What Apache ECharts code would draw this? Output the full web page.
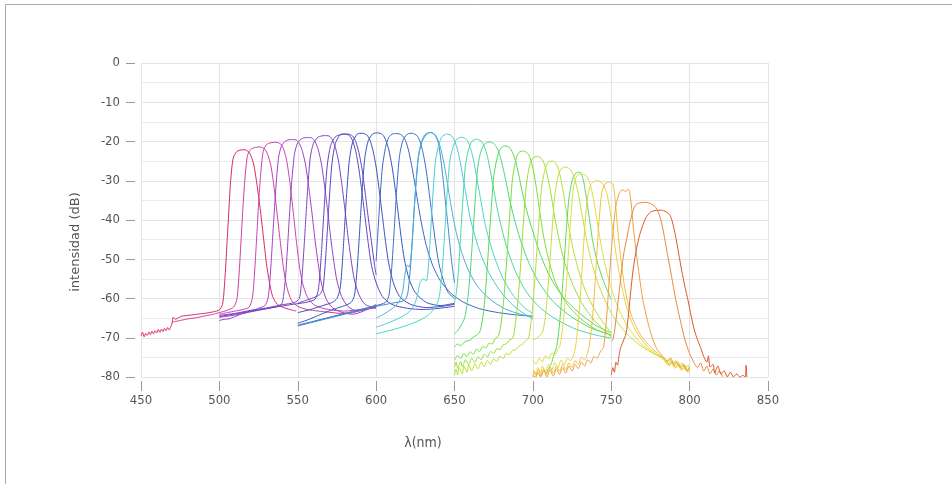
<!DOCTYPE html>
<html>
<head>
<meta charset="utf-8">
<script src="https://cdn.jsdelivr.net/npm/echarts@6/dist/echarts.min.js"></script>
<style>
html,body{margin:0;padding:0;background:#fff;}
#chart{width:952px;height:484px;}
</style>
</head>
<body>
<div id="chart"></div>
<script>
// Axis tick labels
const xTicks = [450, 500, 550, 600, 650, 700, 750, 800, 850];
const yTicks = [0, -10, -20, -30, -40, -50, -60, -70, -80];
const xName = 'λ(nm)';
const yName = 'intensidad (dB)';

// Spectral curves, [wavelength nm, intensity dB]
const A1 = [[450,-69.5],[451,-68.6],[452,-69.8],[453,-68.9],[454,-69.4],[455,-68.5],[456,-69.2],[457,-68.3],[458,-69],[459,-68.2],[460,-68.8],[461,-67.9],[462,-68.6],[463,-67.8],[464,-68.4],[465,-67.6],[466,-68.2],[467,-67.4],[468,-68],[469,-67.2],[470,-66],[470.5,-64.8],[472,-65.3],[474,-64.9],[476,-64.5],[478,-64.4],[480,-64.3],[484,-64.1],[488,-63.9],[492,-63.7],[496,-63.4],[500,-62.9],[502,-61.5],[503,-58],[504,-52],[505,-45],[506,-38],[507,-31],[508,-26.5],[509,-24],[511,-22.6],[513,-22.2],[516,-22.1],[518,-22.4],[520,-23.5],[522,-26],[524,-31],[526,-37],[528,-44],[530,-51],[532,-56],[534,-59.5],[537,-61.5],[541,-62.3],[545,-62.8],[549,-63.2]];
const A2 = [[470,-66],[475,-65.6],[480,-65.2],[485,-64.9],[490,-64.5],[495,-64.1],[500,-63.6],[505,-63],[509,-62.2],[511,-60.5],[512,-57],[513,-51],[514,-44],[515,-37],[516,-31],[517,-26.5],[518,-23.5],[520,-22],[523,-21.5],[526,-21.4],[529,-22],[531,-23.5],[533,-26.5],[535,-32],[537,-39],[539,-46],[541,-52.5],[543,-57],[546,-60.5],[550,-62],[556,-62.8],[563,-63.2],[570,-63.5],[578,-63.8],[585,-63.6],[592,-62.8],[600,-62.2]];
const A3 = [[500,-64],[505,-63.6],[510,-63.2],[515,-62.8],[519,-62.2],[521,-60],[522,-56],[523,-50],[524,-43],[525,-36],[526,-30],[527,-25.5],[528,-22.5],[530,-20.8],[533,-20.3],[536,-20.2],[539,-20.6],[541,-22],[543,-25],[545,-30.5],[547,-37.5],[549,-45],[551,-51.5],[553,-56],[556,-59.5],[560,-61.5],[566,-62.5],[573,-63],[580,-63.2],[590,-62.8],[600,-62.4]];
const A4 = [[500,-65.6],[503,-65.3],[506,-65.2],[510,-64.6],[515,-63.8],[520,-63.2],[525,-62.5],[529,-61.8],[531,-60],[532,-56.5],[533,-51],[534,-44.5],[535,-38],[536,-32],[537,-27],[538,-23.5],[540,-20.8],[543,-19.7],[546,-19.5],[549,-19.6],[551,-20.5],[553,-22.5],[555,-26],[557,-31.5],[559,-38],[561,-45],[563,-51],[565,-56],[568,-60],[572,-62.3],[578,-63.5],[585,-64],[592,-63.2],[600,-61.5]];
const A5 = [[500,-64.8],[510,-64.2],[520,-63.4],[530,-62.6],[537,-62],[540,-61.2],[541,-59],[542,-55.5],[543,-50],[544,-43.5],[545,-37],[546,-31],[547,-26.5],[548,-23],[550,-20.3],[553,-19.2],[556,-19],[559,-19.1],[561,-20],[563,-22],[565,-25.5],[567,-31],[569,-37.5],[571,-44.5],[573,-50.5],[575,-55.5],[578,-59.5],[582,-62],[588,-63.2],[594,-62.8],[600,-62]];
const A6 = [[500,-64.3],[510,-63.8],[520,-63],[530,-62.4],[540,-61.6],[548,-61],[551,-60],[552,-57.5],[553,-53],[554,-47],[555,-40.5],[556,-34],[557,-28.5],[558,-24],[560,-20.5],[563,-18.9],[567,-18.5],[570,-18.6],[572,-19.5],[574,-21.5],[576,-25],[578,-30.5],[580,-37],[582,-44],[584,-50],[586,-55],[589,-59],[593,-61.5],[600,-62.5]];
const A7 = [[500,-64.6],[515,-63.6],[530,-62.6],[545,-61.6],[555,-61],[561,-60.2],[563,-58],[564,-54.5],[565,-49],[566,-42.5],[567,-36],[568,-30],[569,-25.5],[571,-21],[574,-18.8],[578,-18.2],[582,-18.1],[585,-18.6],[587,-20],[589,-22.8],[591,-27],[593,-33],[595,-39.5],[597,-45.5],[599,-51.5],[600,-54]];
const B1 = [[550,-61.2],[555,-60.5],[560,-59.8],[564,-59],[566,-57.5],[567,-54],[568,-48.5],[569,-42],[570,-35.5],[571,-29.5],[572,-25],[574,-20.5],[577,-18.3],[580,-18.1],[583,-18.5],[585,-19.8],[587,-22.5],[589,-27],[591,-33],[593,-39.5],[595,-46],[597,-51.5],[600,-56],[604,-59.5],[610,-61.5],[620,-62.5],[630,-62.8],[640,-62.5],[650,-62]];
const B2 = [[550,-63.6],[558,-62.8],[566,-61.8],[572,-61],[575,-60],[577,-57.5],[578,-53.5],[579,-47.5],[580,-41],[581,-34.5],[582,-29],[583,-24.5],[585,-20.2],[588,-18.1],[591,-17.9],[594,-18.3],[596,-19.6],[598,-22.3],[600,-26.5],[602,-32.5],[604,-39],[606,-45.5],[608,-51],[611,-56],[615,-59.5],[622,-61.5],[632,-62.3],[642,-62],[650,-61.5]];
const B3 = [[550,-66.3],[556,-65.5],[562,-64.5],[568,-63.5],[574,-62.6],[580,-61.8],[584,-61],[586,-59.5],[587,-56.5],[588,-52],[589,-46],[590,-39.5],[591,-33],[592,-27.5],[593,-23.5],[595,-19.8],[598,-18],[601,-17.8],[604,-18.2],[606,-19.5],[608,-22],[610,-26],[612,-31.5],[614,-38],[616,-44.5],[618,-50],[621,-55],[625,-58.5],[632,-61],[641,-61.8],[650,-61.2]];
const B4 = [[550,-66.8],[560,-65.8],[570,-64.8],[580,-63.8],[590,-62.8],[600,-61.8],[606,-61],[608,-59.5],[609,-56.5],[610,-52],[611,-46],[612,-39.5],[613,-33],[614,-27.5],[615,-23.5],[617,-19.8],[620,-18.1],[623,-17.9],[626,-18.5],[628,-20],[630,-23],[632,-27.5],[634,-33.5],[636,-40],[638,-46],[640,-51],[643,-55.5],[646,-58.5],[650,-60]];
const B5 = [[550,-67],[560,-66],[570,-65],[580,-64],[590,-63],[600,-62],[610,-61.2],[618,-60.5],[620,-59],[621,-56],[622,-51.5],[623,-45.5],[624,-39],[625,-33],[626,-28],[627,-24],[629,-20.3],[632,-18.2],[635,-17.7],[638,-18.6],[640,-21],[642,-27],[644,-34.5],[646,-42],[648,-50],[650,-56]];
const C1 = [[600,-50.5],[601,-44],[602,-37.5],[603,-31.5],[604,-26.5],[606,-21.5],[608,-19],[611,-18],[614,-18],[617,-18.6],[619,-20],[621,-22.8],[623,-26.8],[625,-31.5],[627,-36.5],[629,-41],[632,-46.5],[636,-51.5],[641,-55.5],[648,-58.8],[656,-61],[666,-62.6],[678,-63.6],[690,-64.2],[700,-64.5]];
const C2 = [[600,-65],[604,-64.2],[608,-63.2],[612,-62],[615,-60.5],[617,-58],[618,-55],[619,-52.5],[620,-51.5],[621,-52],[622,-50.5],[623,-46],[624,-39.5],[625,-33],[626,-27.5],[627,-23.5],[629,-20],[631,-18.3],[634,-17.7],[637,-18],[639,-19.2],[641,-21.5],[643,-25],[645,-29.5],[647,-34.5],[649,-39],[651,-43],[654,-47.5],[658,-52],[664,-56.5],[672,-60],[682,-62.6],[692,-64],[700,-64.8]];
const C3 = [[600,-67.3],[606,-66.5],[612,-65.5],[618,-64.3],[622,-63],[625,-61],[627,-58],[628,-56],[630,-55],[632,-55.5],[633,-53.5],[634,-48],[635,-41.5],[636,-35],[637,-29],[638,-24.5],[640,-20.8],[642,-18.8],[645,-18.1],[648,-18.5],[650,-19.8],[652,-22.2],[654,-26],[656,-30.5],[658,-35],[660,-39.5],[663,-44],[667,-49],[672,-53.5],[679,-58],[688,-62],[700,-65.3]];
const C4 = [[600,-69],[610,-68],[620,-66.8],[628,-65.5],[634,-64],[638,-62],[640,-60],[641,-57.5],[642,-53.5],[643,-48],[644,-41.5],[645,-35],[646,-29.5],[647,-25],[649,-21.5],[651,-19.6],[654,-18.9],[657,-19.2],[659,-20.4],[661,-22.8],[663,-26.5],[665,-31],[667,-35.5],[669,-40],[672,-45],[676,-50],[681,-55],[688,-59.5],[695,-62.5],[700,-63.8]];
const D1 = [[650,-61],[651,-59],[652,-55.5],[653,-50],[654,-43.5],[655,-37],[656,-31],[657,-26],[659,-22],[661,-20],[664,-19.4],[667,-19.9],[669,-21.2],[671,-23.8],[673,-27.8],[675,-32.2],[677,-36.6],[680,-42],[684,-47.8],[689,-53.2],[696,-58.4],[705,-62.5],[716,-65.6],[728,-67.9],[740,-69.3],[750,-70.1]];
const D2 = [[650,-69],[652,-68.2],[654,-67],[656,-65.5],[657,-64],[658,-61.5],[659,-58],[660,-53.5],[661,-48],[662,-42],[663,-36],[664,-30.5],[665,-26],[667,-22.3],[669,-20.7],[672,-20.1],[675,-20.5],[677,-21.6],[679,-23.6],[681,-26.8],[683,-30.5],[685,-34.5],[688,-39.5],[692,-45],[697,-50.5],[704,-56],[713,-60.8],[724,-64.5],[737,-67.5],[750,-69.3]];
const D3 = [[650,-72.3],[652,-71.6],[654,-72],[656,-71.2],[658,-70.8],[660,-70.6],[662,-69.8],[664,-69.4],[666,-68.6],[667,-67.2],[668,-65],[669,-61.5],[670,-57],[671,-51.5],[672,-45.5],[673,-39.5],[674,-34],[675,-29],[677,-24.5],[679,-22],[682,-21.1],[685,-21.5],[687,-22.8],[689,-25],[691,-28.5],[693,-32.5],[696,-37.5],[700,-43],[705,-49],[711,-54.5],[719,-59.5],[729,-63.5],[740,-66.8],[750,-68.8]];
const D4 = [[650,-75.7],[652,-74.5],[654,-75.3],[656,-74],[658,-74.8],[660,-73.6],[662,-74.2],[664,-72.9],[666,-73.5],[668,-72.2],[670,-72.6],[672,-71.4],[674,-71.6],[676,-70.2],[678,-69.6],[679,-68],[680,-65.5],[681,-62],[682,-57.5],[683,-52],[684,-46],[685,-40],[686,-34.5],[687,-29.5],[689,-25],[691,-22.8],[694,-22.4],[697,-23.2],[699,-25.2],[701,-28.8],[703,-34],[705,-39.5],[707,-44.5],[710,-50],[714,-55.5],[721,-61],[730,-65],[740,-67.8],[750,-69.4]];
const D5 = [[650,-77.5],[651,-76.2],[652,-77.8],[654,-76],[655,-77.4],[657,-75.6],[659,-76.8],[661,-75.2],[663,-76.3],[665,-74.8],[667,-75.6],[669,-74.2],[671,-74.9],[673,-73.5],[675,-74],[677,-72.8],[679,-73],[681,-71.8],[683,-71.6],[685,-70.6],[687,-70.2],[688,-68.8],[689,-66],[690,-62.5],[691,-58],[692,-52.5],[693,-46.5],[694,-40.5],[695,-35],[696,-30.5],[698,-26],[700,-24.2],[703,-23.8],[706,-24.6],[708,-26.6],[710,-30],[712,-34.5],[714,-39.5],[717,-45.5],[720,-50.5],[725,-56],[731,-61],[739,-65.5],[750,-69.8]];
const D6 = [[650,-79.6],[651,-78],[652,-79.5],[653,-77.6],[655,-79.2],[656,-77.2],[658,-78.8],[659,-76.9],[661,-78.4],[663,-76.6],[665,-77.9],[667,-76.2],[669,-77.4],[671,-75.8],[673,-76.8],[675,-75.3],[677,-76.1],[679,-74.7],[681,-75.3],[683,-74],[685,-74.3],[687,-73.2],[689,-73.1],[691,-72.2],[693,-71.8],[695,-70.9],[697,-70.2],[698,-68.5],[699,-65.5],[700,-61.5],[701,-56.5],[702,-51],[703,-45],[704,-39.5],[705,-34.5],[706,-30.5],[708,-26.8],[710,-25.2],[713,-25],[715,-25.8],[717,-28],[719,-32],[721,-37],[723,-42],[726,-48],[730,-54],[735,-59.5],[742,-64.5],[750,-68.8]];
const D7 = [[708,-79.5],[710,-77.8],[712,-76.4],[713,-74.8],[715,-72.5],[716,-70],[717,-66.5],[718,-62],[719,-56.5],[720,-50.5],[721,-44.5],[722,-39],[723,-34.5],[725,-30],[727,-28.2],[730,-27.8],[732,-29.5],[734,-34],[736,-39.5],[738,-45],[741,-50.5],[745,-55.5],[750,-60.3]];
const E1 = [[700,-70.6],[702,-70.2],[704,-69.6],[706,-68.6],[707,-67.2],[708,-64.5],[709,-60.5],[710,-55.5],[711,-50],[712,-44],[713,-38.5],[714,-33.5],[716,-29],[718,-27],[721,-26.5],[724,-27.2],[726,-28.8],[728,-31.5],[730,-35.5],[732,-40],[734,-44.5],[737,-50],[741,-55.5],[746,-60.5],[752,-65],[760,-69],[768,-71.8],[776,-73.8],[782,-74.8],[785,-76.2],[787,-75.3],[789,-76.8],[791,-75.8],[793,-77.3],[795,-76.4],[797,-78],[799,-77],[800,-78.2]];
const E2 = [[700,-75.7],[702,-76.8],[704,-75.2],[706,-76.2],[708,-74.6],[710,-75.4],[712,-73.9],[714,-74.4],[716,-72.8],[717,-72.4],[718,-70.6],[719,-67.5],[720,-63.5],[721,-58.5],[722,-52.5],[723,-46.5],[724,-40.5],[725,-35.5],[726,-31.5],[728,-28.8],[731,-28.2],[734,-28.7],[736,-30.3],[738,-33.3],[740,-37.8],[742,-42.8],[745,-49.5],[749,-56],[754,-62],[761,-67.5],[769,-71.5],[777,-74],[783,-75.4],[786,-76.8],[788,-75.7],[790,-77.4],[792,-76.3],[794,-77.9],[796,-76.8],[798,-78.4],[800,-77.6]];
const E3 = [[700,-78.3],[702,-79.5],[703,-77.6],[705,-79.2],[706,-77.2],[708,-78.7],[710,-76.8],[712,-78.3],[714,-76.4],[716,-77.6],[718,-75.7],[720,-76.9],[722,-75.2],[724,-75.8],[726,-74.4],[727,-72.8],[728,-70],[729,-66],[730,-61],[731,-55],[732,-48.5],[733,-42.5],[734,-37.5],[735,-33.8],[737,-31],[740,-30],[743,-30.2],[745,-31],[747,-33],[749,-37],[751,-42.5],[753,-48.5],[756,-55.5],[760,-62.5],[765,-67.8],[772,-71.8],[780,-74.6],[785,-75.8],[787,-77.2],[789,-76.1],[791,-77.8],[793,-76.7],[795,-78.3],[797,-77.3],[799,-78.8],[800,-77.9]];
const E4 = [[700,-80],[701,-78.4],[702,-79.6],[704,-78],[705,-79.8],[707,-77.9],[709,-79.3],[711,-77.5],[713,-79],[715,-77.2],[717,-78.6],[719,-76.8],[721,-78.2],[723,-76.4],[725,-77.6],[727,-75.8],[729,-76.8],[731,-75],[733,-75.6],[735,-73.8],[736,-72],[737,-69],[738,-65],[739,-60],[740,-54],[741,-47.5],[742,-41.5],[743,-36.5],[744,-33],[746,-30.8],[749,-30.3],[751,-30.8],[752,-33],[753,-37],[754,-42],[756,-49.5],[758.5,-57],[761,-61.8],[764,-65.5],[769,-69.5],[775,-72.3],[781,-74.5],[785,-75.6],[787,-76.9],[789,-75.9],[791,-77.6],[793,-76.5],[795,-78.2],[797,-77],[799,-78.7],[800,-78]];
const E5 = [[700,-79.6],[702,-80],[703,-78.8],[705,-80],[707,-78.4],[709,-80],[711,-78.2],[713,-79.8],[715,-77.9],[717,-79.4],[719,-77.6],[721,-79],[723,-77.2],[725,-78.5],[727,-76.8],[729,-77.9],[731,-76.2],[733,-77.2],[735,-75.6],[737,-76.4],[739,-74.8],[741,-75.2],[743,-73.6],[745,-72.5],[746,-69.5],[747,-65],[748,-59.5],[749,-53.5],[750,-48],[751,-43.5],[752,-39.5],[753,-36.2],[755,-33.3],[757,-32.3],[759,-32.7],[761,-32.2],[762,-33.5],[763,-37],[764,-41.5],[766,-48.5],[768,-54.5],[770,-60],[773,-65.5],[776,-69.8],[779,-72.8],[783,-74.8],[786,-76],[788,-75.2],[790,-76.9],[792,-76],[794,-77.6],[796,-76.7],[798,-78.4],[800,-77.6]];
const F1 = [[750,-71],[751,-70.5],[752,-68.5],[753,-65.5],[754,-62],[755,-58.5],[756,-55],[757,-51.5],[758,-48.5],[760,-44.5],[762,-40.5],[764,-37.5],[766,-36],[769,-35.6],[772,-35.5],[775,-35.8],[778,-36.6],[780,-38],[782,-40.5],[784,-44.5],[786,-49],[788.5,-54.4],[791,-60],[794,-65.5],[797,-70.5],[800,-74],[803,-76.5],[805,-77.6],[807,-76.4],[809,-78.5],[811,-77.2],[813,-79.2],[815,-78],[817,-79.5],[819,-78.4],[821,-80]];
const F2 = [[750,-79.5],[751,-77.6],[752,-78.8],[753,-76.2],[754,-77],[755,-74.5],[756,-72.5],[757,-71.5],[758,-70.5],[759,-69.5],[760,-67.5],[761,-64],[762,-60],[763,-56],[764,-52.5],[766,-47.5],[768,-44],[770,-41.5],[772,-39.5],[775,-38],[778,-37.6],[782,-37.5],[785,-37.9],[787.5,-38.8],[789,-40.5],[791,-44],[793,-48.5],[795,-53],[797,-57],[799,-60.5],[801,-64.5],[803,-68],[805,-70.5],[807,-72.5],[809,-74.8],[811,-76.2],[812,-74.6],[813,-77.4],[815,-76.8],[816,-79],[818,-77.2],[820,-79.3],[822,-78.4],[824,-80],[826,-78.8],[828,-80],[830,-79.2],[832,-80],[834,-79.6],[835.5,-80],[836,-77],[836.5,-80]];

const curveNames = ['A1','A2','A3','A4','A5','A6','A7','B1','B2','B3','B4','B5','C1','C2','C3','C4','D1','D2','D3','D4','D5','D6','D7','E1','E2','E3','E4','E5','F1','F2'];
const curveData = [A1,A2,A3,A4,A5,A6,A7,B1,B2,B3,B4,B5,C1,C2,C3,C4,D1,D2,D3,D4,D5,D6,D7,E1,E2,E3,E4,E5,F1,F2];
const curveColors = ['#d82a60','#d0409a','#c844b8','#a83ccc','#9446c8','#7c46c2','#6c44bc','#5848c0','#4250bc','#3458c0','#3a70c8','#4088d0','#3c66c6','#48b0dc','#48ccd8','#48d8c4','#48d8a4','#48d880','#58da58','#78e038','#98e034','#b4e034','#60d860','#c4e03c','#dee03e','#ecd040','#f2be40','#eca040','#e48840','#d8582c'];

const axisFont = "'Liberation Sans Narrow','DejaVu Sans Condensed','Roboto',sans-serif";

const chart = echarts.init(document.getElementById('chart'), null, {renderer: 'canvas'});
chart.setOption({
  animation: false,
  backgroundColor: '#ffffff',
  grid: {left: 141, right: 184, top: 63, bottom: 107},
  xAxis: {
    type: 'value', min: xTicks[0], max: xTicks[xTicks.length - 1], interval: 50, offset: 4,
    axisLine: {show: false, onZero: false},
    axisTick: {show: true, length: 10, lineStyle: {color: '#9a9a9a'}},
    axisLabel: {margin: 13, color: '#555', fontSize: 13, fontFamily: axisFont},
    splitLine: {show: true, lineStyle: {color: '#e4e4e4'}}
  },
  yAxis: {
    type: 'value', min: yTicks[yTicks.length - 1], max: yTicks[0], interval: 10, offset: 6,
    axisLine: {show: false, onZero: false},
    axisTick: {show: true, length: 9, lineStyle: {color: '#9a9a9a'}},
    axisLabel: {margin: 15, color: '#555', fontSize: 13, fontFamily: axisFont},
    splitLine: {show: true, lineStyle: {color: '#e4e4e4'}},
    minorTick: {show: false, splitNumber: 2},
    minorSplitLine: {show: true, lineStyle: {color: '#ebebeb'}}
  },
  graphic: [
    {type: 'rect', z: -10, shape: {x: 5.5, y: 4.5, width: 1000, height: 1000}, style: {fill: 'none', stroke: '#a8a8a8', lineWidth: 1}},
    {type: 'text', x: 423, y: 443, style: {text: xName, fill: '#555', font: "14px 'Liberation Sans Narrow','DejaVu Sans Condensed',sans-serif", textAlign: 'center', textVerticalAlign: 'middle'}},
    {type: 'text', x: 76, y: 242, rotation: Math.PI / 2, style: {text: yName, fill: '#555', font: "13px 'DejaVu Sans',sans-serif", textAlign: 'center', textVerticalAlign: 'middle'}}
  ],
  series: curveData.map((d, i) => ({
    type: 'line',
    name: curveNames[i],
    data: d,
    showSymbol: false,
    silent: true,
    smooth: 0.25,
    clip: true,
    lineStyle: {width: 1, color: curveColors[i]},
    itemStyle: {color: curveColors[i]}
  }))
});
</script>
</body>
</html>
